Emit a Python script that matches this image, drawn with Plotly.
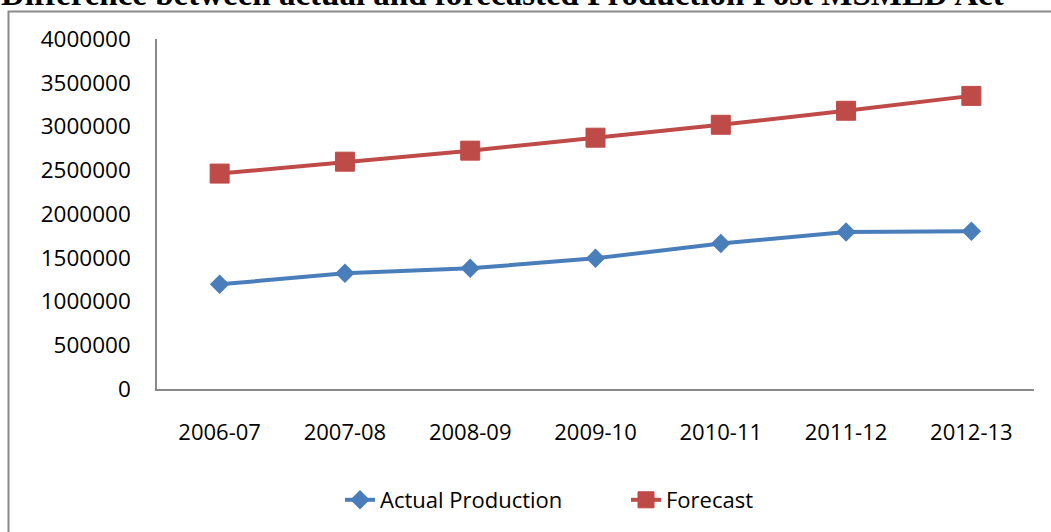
import plotly.graph_objects as go

# ---- data ----
years = ["2006-07", "2007-08", "2008-09", "2009-10", "2010-11", "2011-12", "2012-13"]
actual_production = [1196000, 1322000, 1379000, 1493000, 1664000, 1793000, 1804000]
forecast = [2462000, 2598000, 2724000, 2872000, 3020000, 3180000, 3350000]
y_ticks = [0, 500000, 1000000, 1500000, 2000000, 2500000, 3000000, 3500000, 4000000]

title_text = "Difference between actual and forecasted Production Post MSMED Act"

# ---- layout geometry (pixels) ----
W, H = 1051, 532
L, R, T, B = 157, 1051 - 1034, 39, 532 - 390
PW, PH = W - L - R, H - T - B


def px2x(px):
    return (px - L) / PW


def py2y(py):
    return 1 - (py - T) / PH


BLUE = "#4a7ebb"
RED = "#be4b48"
FONT = "Open Sans"

fig = go.Figure()
fig.add_trace(go.Scatter(
    x=years, y=actual_production, name="Actual Production",
    mode="lines+markers",
    line=dict(color=BLUE, width=4),
    marker=dict(symbol="diamond", size=15, color=BLUE),
))
fig.add_trace(go.Scatter(
    x=years, y=forecast, name="Forecast",
    mode="lines+markers",
    line=dict(color=RED, width=4),
    marker=dict(symbol="square", size=19, color=RED, line=dict(color=RED, width=1)),
))

fig.update_layout(
    width=W, height=H,
    margin=dict(l=L, r=R, t=T, b=B),
    paper_bgcolor="white", plot_bgcolor="white",
    font=dict(family=FONT, size=23, color="#000000"),
    showlegend=True,
    legend=dict(
        orientation="h",
        x=px2x(340), xanchor="left",
        y=py2y(500), yanchor="middle",
        font=dict(family=FONT, size=22, color="#000000"),
        entrywidth=241, entrywidthmode="pixels",
        bgcolor="rgba(0,0,0,0)",
        traceorder="normal",
    ),
    xaxis=dict(
        type="category", range=[-0.5, len(years) - 0.5],
        showgrid=False, zeroline=False,
        showline=True, linecolor="#8a8a8a", linewidth=1.5,
        ticks="", ticklabelstandoff=23,
        tickfont=dict(family=FONT, size=22, color="#000000"),
        fixedrange=True,
    ),
    yaxis=dict(
        range=[0, 4000000], tickvals=y_ticks,
        ticktext=[str(v) for v in y_ticks],
        showgrid=False, zeroline=False,
        showline=True, linecolor="#8a8a8a", linewidth=1.5,
        ticks="", ticklabelstandoff=20,
        tickfont=dict(family=FONT, size=22.5, color="#000000"),
        fixedrange=True,
    ),
    annotations=[dict(
        text="<b>" + title_text + "</b>",
        xref="paper", yref="paper",
        x=px2x(-1), xanchor="left",
        y=py2y(14), yanchor="bottom",
        showarrow=False,
        font=dict(family="Liberation Serif", size=33, color="#000000"),
    )],
    shapes=[dict(
        type="rect", xref="paper", yref="paper",
        x0=px2x(8.5), x1=px2x(1070), y0=py2y(560), y1=py2y(11.5),
        line=dict(color="#8a8a8a", width=2), fillcolor="rgba(0,0,0,0)",
        layer="below",
    )],
)

fig.write_html("out.html")
